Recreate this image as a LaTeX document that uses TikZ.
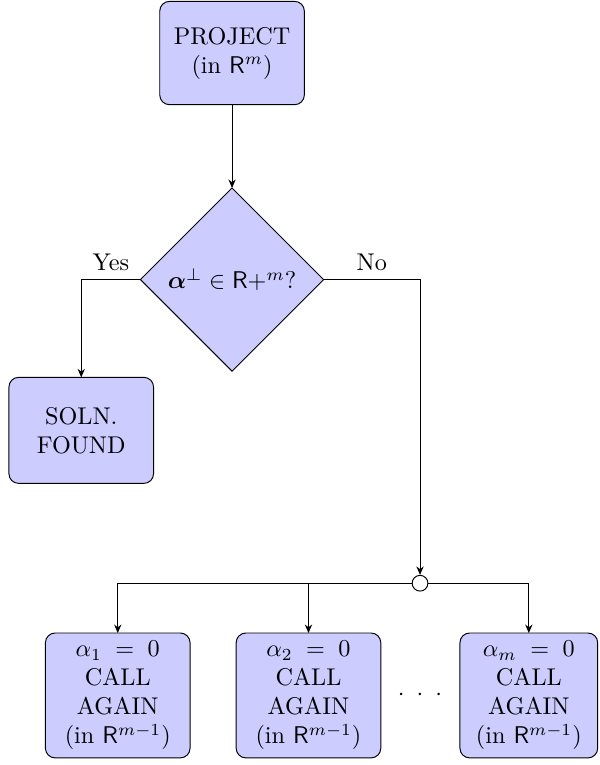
\documentclass[tikz,border=0pt]{standalone}
\usepackage{amsmath}
\usetikzlibrary{arrows.meta,positioning,shapes.geometric}

\begin{document}
\begin{tikzpicture}
      [
        >={Stealth[length=3.5pt, width=3pt]},
        node distance = 0pt,
        FlowBlock/.style={draw, fill=blue!20, rounded corners, align=center, minimum width=2.1cm, minimum height=1.5cm, outer sep=0pt},
        FlowTest/.style={diamond, draw, fill=blue!20, aspect=1, inner sep=1pt, minimum width=2.66cm, minimum height=2.66cm, outer sep=0pt},
        SplitPoint/.style={circle, draw, fill=white, inner sep=0pt, minimum size=6.5pt},
      ]

      \useasboundingbox (0,0) rectangle (8.71,-11.11);

      \node [FlowBlock] (proj) at (3.37,-0.77) {PROJECT\\(in $\mathsf{R}^m$)};
      \node [FlowTest, below=1.21cm of proj] (test) {$\boldsymbol{\alpha}^\perp \in \mathsf{R}+^m$?};
      \node [FlowBlock, minimum height=1.54cm] (soln) at (1.18,-6.25) {SOLN.\\FOUND};
      \node [SplitPoint] (split) at (6.10,-8.47) {};

      \node [FlowBlock] (call1) at (1.71,-10.10) {$\alpha_1 \;=\; 0$\\CALL\\AGAIN\\(in $\mathsf{R}^{m-1}$)};
      \node [FlowBlock, right=0.67cm of call1] (call2) {$\alpha_2 \;=\; 0$\\CALL\\AGAIN\\(in $\mathsf{R}^{m-1}$)};
      \node [FlowBlock, minimum width=2cm] (callm) at (7.68,-10.10) {$\alpha_m \;=\; 0$\\CALL\\AGAIN\\(in $\mathsf{R}^{m-1}$)};
      \node (dots) at (split |- call2) {$\cdot$\hspace{5pt}$\cdot$\hspace{5pt}$\cdot$};

      \draw[->] (proj) -- (test);
      \draw[->] (test.west) -| node[above, pos=0.25] {Yes} (soln.north);
      \draw[->] (test.east) -| node[above, pos=0.25] {No} (split.north);
      \draw[->] (split.west) -| (call1.north);
      \draw[->] (split.west) -| (call2.north);
      \draw[->] (split.east) -| (callm.north);
    \end{tikzpicture}
\end{document}
